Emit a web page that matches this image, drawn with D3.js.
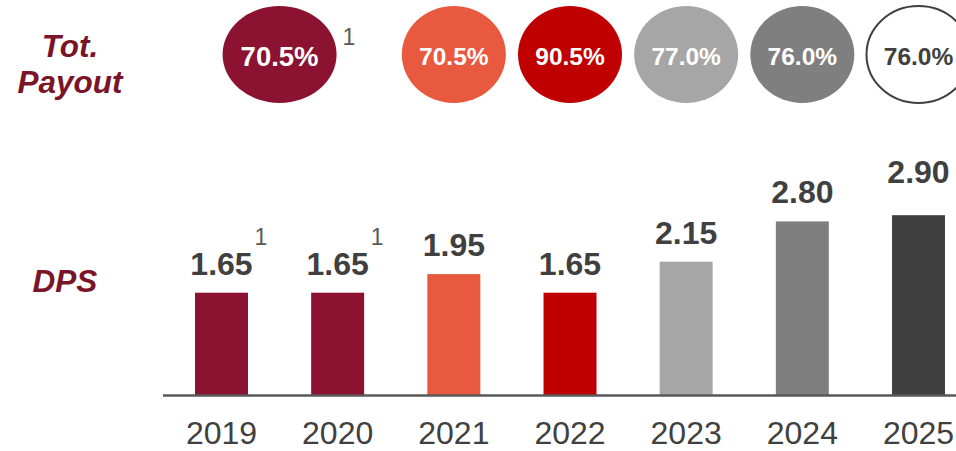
<!DOCTYPE html>
<html>
<head>
<meta charset="utf-8">
<script src="https://cdn.jsdelivr.net/npm/d3@7"></script>
<style>
  body { margin: 0; background: #fff; }
  text { font-family: "Liberation Sans", Arial, sans-serif; }
</style>
</head>
<body>
<script>
const years = ["2019", "2020", "2021", "2022", "2023", "2024", "2025"];
const dps = [1.65, 1.65, 1.95, 1.65, 2.15, 2.80, 2.90];
const barColors = ["#8b1230", "#8b1230", "#e8593f", "#c00000", "#a6a6a6", "#7f7f7f", "#404040"];
const dpsNotes = ["1", "1", "", "", "", "", ""];

// payout circles: first one covers 2019 and 2020 together
const payoutYears = [["2019", "2020"], ["2021"], ["2022"], ["2023"], ["2024"], ["2025"]];
const payout = [70.5, 70.5, 90.5, 77.0, 76.0, 76.0];
const payoutFill = ["#8b1230", "#e8593f", "#c00000", "#a6a6a6", "#7f7f7f", "#ffffff"];
const payoutNotes = ["1", "", "", "", "", ""];

const dims = { w: 956, h: 451, base: 395 };

const svg = d3.select("body").append("svg")
  .attr("width", dims.w)
  .attr("height", dims.h);

const x = d3.scaleBand()
  .domain(years)
  .range([195, 945])
  .paddingInner(0.544)
  .paddingOuter(0);

const y = d3.scaleLinear()
  .domain([0, 3])
  .range([dims.base, dims.base - 186]);

// row labels
const maroon = "#7a1429";
const rowLab = svg.append("g")
  .attr("font-weight", "bold")
  .attr("font-style", "italic")
  .attr("font-size", 31.5)
  .attr("fill", maroon)
  .attr("text-anchor", "middle");
rowLab.append("text").attr("x", 70).attr("y", 57).text("Tot.");
rowLab.append("text").attr("x", 70).attr("y", 93).text("Payout");
rowLab.append("text").attr("x", 65).attr("y", 292).text("DPS");

// payout circles
const cx = ys => d3.mean(ys, v => x(v) + x.bandwidth() / 2);
const circ = svg.append("g").selectAll("g")
  .data(payout)
  .join("g")
  .attr("transform", (d, i) => `translate(${cx(payoutYears[i])},54.5)`);

circ.append("ellipse")
  .attr("rx", (d, i) => payoutYears[i].length > 1 ? 57 : 52)
  .attr("ry", 48.5)
  .attr("fill", (d, i) => payoutFill[i])
  .attr("stroke", (d, i) => payoutFill[i] == "#ffffff" ? "#404040" : "none")
  .attr("stroke-width", 2);

circ.append("text")
  .attr("text-anchor", "middle")
  .attr("y", (d, i) => payoutYears[i].length > 1 ? 11 : 10)
  .attr("font-weight", "bold")
  .attr("font-size", (d, i) => payoutYears[i].length > 1 ? 27.5 : 24.5)
  .attr("fill", (d, i) => payoutFill[i] == "#ffffff" ? "#404040" : "#fff")
  .text(d => d.toFixed(1) + "%");

circ.append("text")
  .attr("x", 63)
  .attr("y", -9.5)
  .attr("font-size", 23)
  .attr("fill", "#595959")
  .text((d, i) => payoutNotes[i]);

// bars
svg.append("g").selectAll("rect")
  .data(dps)
  .join("rect")
  .attr("x", (d, i) => x(years[i]))
  .attr("y", d => y(d))
  .attr("width", x.bandwidth())
  .attr("height", d => y(0) - y(d))
  .attr("fill", (d, i) => barColors[i]);

const lift = i => i == years.length - 1 ? 32 : 18;
const lab = svg.append("g").selectAll("g")
  .data(dps)
  .join("g")
  .attr("transform", (d, i) => `translate(${x(years[i]) + x.bandwidth() / 2},${y(d) - lift(i)})`);

lab.append("text")
  .attr("text-anchor", "middle")
  .attr("font-weight", "bold")
  .attr("font-size", 32)
  .attr("fill", "#404040")
  .text(d => d.toFixed(2));

lab.append("text")
  .attr("x", 33)
  .attr("y", -30)
  .attr("font-size", 23)
  .attr("fill", "#595959")
  .text((d, i) => dpsNotes[i]);

// baseline
svg.append("line")
  .attr("x1", 163).attr("x2", dims.w)
  .attr("y1", dims.base + 0.5).attr("y2", dims.base + 0.5)
  .attr("stroke", "#595959")
  .attr("stroke-width", 2.5);

const ax = svg.append("g")
  .attr("transform", `translate(0,${dims.base})`)
  .call(d3.axisBottom(x).tickSize(0).tickPadding(26));
ax.select(".domain").remove();
ax.selectAll("text")
  .attr("font-family", "'Liberation Sans', Arial, sans-serif")
  .attr("font-size", 32)
  .attr("fill", "#404040");
</script>
</body>
</html>
